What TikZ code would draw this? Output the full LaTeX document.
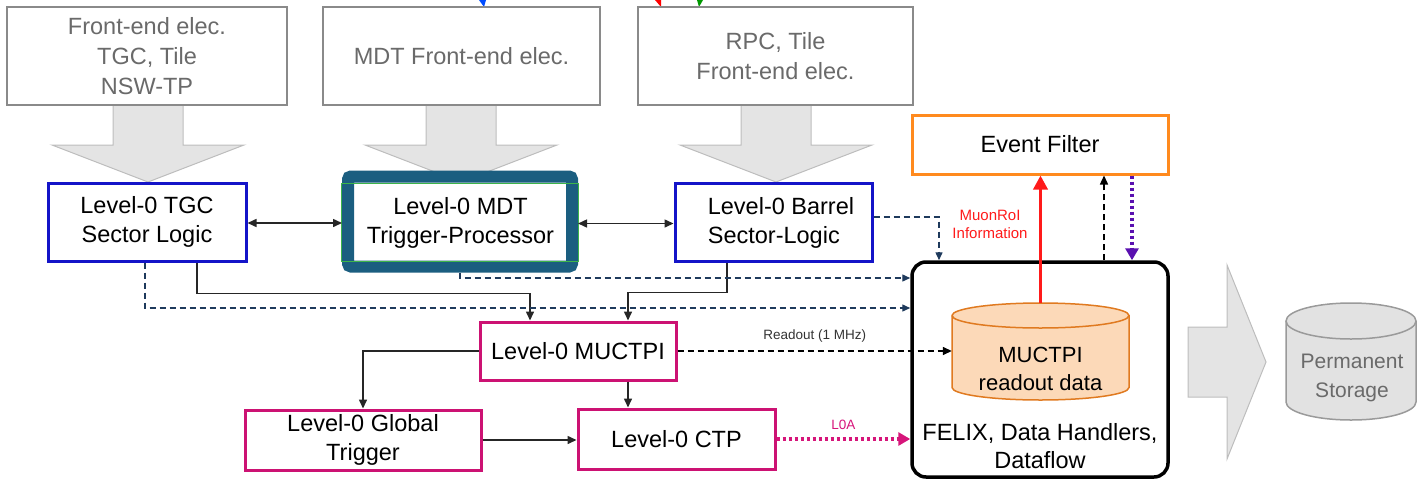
\documentclass[tikz,border=0pt]{standalone}
\usepackage{fontspec}
\setmainfont{Liberation Sans}
\usetikzlibrary{arrows.meta,calc}
\definecolor{fegray}{HTML}{8A8A8A}
\definecolor{fetext}{HTML}{6A6A6A}
\definecolor{arrgray}{HTML}{E4E4E4}
\definecolor{arredge}{HTML}{BDBDBD}
\definecolor{lblue}{HTML}{1414C8}
\definecolor{mdtteal}{HTML}{1B5E80}
\definecolor{mdtgreen}{HTML}{3DB54A}
\definecolor{lpink}{HTML}{CC1273}
\definecolor{eforange}{HTML}{FF8A1E}
\definecolor{navy}{HTML}{1E3A5C}
\definecolor{roired}{HTML}{FF1A1A}
\definecolor{lzapink}{HTML}{D6157A}
\definecolor{purp}{HTML}{5A10B0}
\definecolor{cylfill}{HTML}{FCD9B8}
\definecolor{cyledge}{HTML}{E07A20}
\definecolor{stfill}{HTML}{E2E2E2}
\definecolor{stedge}{HTML}{9A9A9A}
\definecolor{sttext}{HTML}{6A6A6A}
\newcommand\fsMain{\fontsize{23.5}{29}\selectfont}
\newcommand\fsFE{\fontsize{23.5}{30}\selectfont}
\newcommand\fsCyl{\fontsize{22}{28}\selectfont}
\newcommand\fsSmall{\fontsize{13.5}{16}\selectfont}
\newcommand\fsRoi{\fontsize{15}{18}\selectfont}
\tikzset{
  garrow/.style={fill=arrgray, draw=arredge, line width=1pt},
  febox/.style={draw=fegray, line width=1.5pt, text=fetext, align=center, font=\fsFE, inner sep=0pt},
  bluebox/.style={draw=lblue, line width=3pt, align=center, font=\fsMain, inner sep=0pt},
  pinkbox/.style={draw=lpink, line width=3pt, align=center, font=\fsMain, inner sep=0pt},
  txt/.style={align=center, font=\fsMain, inner sep=0pt},
  tipA/.style={Triangle[length=9pt,width=8pt]},
  conn/.style={draw=black!85, line width=1.5pt, -{Triangle[length=9pt,width=8pt]}},
  biconn/.style={draw=black!85, line width=1.5pt, {Triangle[length=9pt,width=8pt]}-{Triangle[length=9pt,width=8pt]}},
  dconn/.style={draw=navy, line width=1.4pt, dash pattern=on 6pt off 4pt, -{Triangle[length=8pt,width=7pt]}},
}
\begin{document}
\begin{tikzpicture}[x=1pt,y=-1pt]
\useasboundingbox (0,0) rectangle (1418,482);

% small colored tips at top edge
\fill[blue!70!cyan] (479,0) -- (486,0) -- (484,7) -- cycle;
\fill[red] (655,0) -- (661,0) -- (661,7) -- cycle;
\fill[green!60!black] (697,0) -- (703,0) -- (699,7) -- cycle;

% big gray arrows
\foreach \cx in {148,461,776} {
  \filldraw[garrow] (\cx-35,105) -- (\cx+35,105) -- (\cx+35,145) -- (\cx+96,145) -- (\cx,182) -- (\cx-96,145) -- (\cx-35,145) -- cycle;
}
\filldraw[garrow] (1188,327) -- (1227,327) -- (1227,265) -- (1266,362) -- (1227,459) -- (1227,397) -- (1188,397) -- cycle;

% front-end boxes
\node[febox, fill=white, minimum width=280pt, minimum height=98pt] (fe1) at (147,56) {Front-end elec.\\TGC, Tile\\NSW-TP};
\node[febox, fill=white, minimum width=277pt, minimum height=98pt] (fe2) at (461.5,56) {MDT Front-end elec.};
\node[febox, fill=white, minimum width=275pt, minimum height=98pt] (fe3) at (775.5,56) {RPC, Tile\\Front-end elec.};

% level-0 boxes
\node[bluebox, fill=white, minimum width=198pt, minimum height=78pt] (tgc) at (147,222) {Level-0 TGC\\Sector Logic};
\node[draw=mdtteal, line width=12pt, rounded corners=3pt, fill=white, minimum width=224pt, minimum height=90pt, inner sep=0pt] (mdtframe) at (460,221.5) {};
\draw[mdtgreen, line width=0.8pt] (341.2,183.5) rectangle (578.8,261);
\node[txt] (mdt) at (460.5,223) {Level-0 MDT\\Trigger-Processor};
\node[bluebox, fill=white, minimum width=197pt, minimum height=78pt] (barrel) at (773.5,222) {};
\node[txt, align=left] (barreltxt) at (781,223) {Level-0 Barrel\\Sector-Logic};

\node[pinkbox, minimum width=196pt, minimum height=58pt] (muctpi) at (578,351) {Level-0 MUCTPI};
\node[pinkbox, minimum width=236pt, minimum height=60pt] (global) at (363,440) {Level-0 Global\\Trigger};
\node[pinkbox, minimum width=197pt, minimum height=60pt] (ctp) at (676.5,439) {Level-0 CTP};

% event filter and FELIX
\node[draw=eforange, line width=3pt, minimum width=256pt, minimum height=59pt, font=\fsMain, inner sep=0pt] (ef) at (1040,144.5) {Event Filter};
\node[draw=black, line width=3.5pt, rounded corners=14pt, minimum width=256pt, minimum height=215pt, inner sep=0pt] (felix) at (1040,369.5) {};
\node[txt, font=\fontsize{23.5}{28}\selectfont] (felixtxt) at (1040,446) {FELIX, Data Handlers,\\Dataflow};

% MUCTPI readout cylinder
\node[minimum width=177pt, minimum height=97pt, inner sep=0pt] (cyl) at (1040.5,351.5) {};
\filldraw[fill=cylfill, draw=cyledge, line width=1.5pt]
  (952,315.5) -- (952,387.5) arc[start angle=180, end angle=360, x radius=88.5, y radius=-12.5] -- (1129,315.5)
  arc[start angle=0, end angle=180, x radius=88.5, y radius=-12.5] -- cycle;
\draw[cyledge, line width=1.5pt] (952,315.5) arc[start angle=180, end angle=360, x radius=88.5, y radius=-12.5];
\node[txt, font=\fsCyl] (cyltxt) at (1040.5,369) {MUCTPI\\readout data};

% permanent storage cylinder
\filldraw[fill=stfill, draw=stedge, line width=1.5pt]
  (1286,321) -- (1286,402) arc[start angle=180, end angle=360, x radius=65, y radius=-18] -- (1416,321)
  arc[start angle=0, end angle=180, x radius=65, y radius=-18] -- cycle;
\draw[stedge, line width=1.5pt] (1286,321) arc[start angle=180, end angle=360, x radius=65, y radius=-18];
\node[txt, text=sttext, font=\fontsize{21}{29}\selectfont] (storage) at (1352,377.5) {Permanent\\Storage};

% connectors between level-0 boxes
\draw[biconn] ([yshift=-1pt]tgc.east) -- ([yshift=-1pt]tgc.east -| mdtframe.west);
\draw[biconn] ([yshift=-2pt]mdtframe.east) -- ([yshift=-2pt]mdtframe.east -| barrel.west);

\draw[conn] ([xshift=50pt]tgc.south) -- ++(0,31) -| ([xshift=-48pt]muctpi.north);
\draw[conn] ([xshift=-46.5pt]barrel.south) -- ++(0,30) -| ([xshift=50pt]muctpi.north);

\draw[dconn] ([xshift=-2pt]tgc.south) |- ([yshift=61.5pt]felix.west);
\draw[dconn] (mdtframe.south) |- ([yshift=91.5pt]felix.west);
\draw[dconn] ([yshift=5pt]barrel.east) -| ([xshift=-101pt]felix.north);

\draw[conn] (muctpi.west) -| (global.north);
\draw[conn] ([xshift=50pt]muctpi.south) -- ([xshift=50pt]muctpi.south |- ctp.north);
\draw[conn] (global.east) -- (global.east -| ctp.west);

% readout
\draw[draw=black, line width=1.4pt, dash pattern=on 6pt off 4pt, -{Triangle[length=9pt,width=8pt]}] (muctpi.east) -- (muctpi.east -| cyl.west)
  node[midway, above=5pt, font=\fsSmall, text=black!80] (readout) {Readout (1 MHz)};

% L0A
\draw[draw=lzapink, line width=3.5pt, dash pattern=on 3pt off 3pt, -{Triangle[length=12pt,width=13pt]}] (ctp.east) -- (ctp.east -| felix.west)
  node[midway, above=4pt, font=\fsSmall, text=lzapink] (l0a) {L0A};

% to/from event filter
\draw[draw=roired, line width=3.5pt, -{Triangle[length=14pt,width=14pt]}] (cyl.north) -- (cyl.north |- ef.south);
\node[font=\fsRoi, text=roired, align=center, inner sep=0pt] (roi) at (990,224) {MuonRoI\\Information};
\draw[draw=black, line width=1.4pt, dash pattern=on 6pt off 4pt, -{Triangle[length=9pt,width=8pt]}] ([xshift=64pt]felix.north) -- ([xshift=64pt]ef.south);
\draw[draw=purp, line width=3.5pt, dash pattern=on 3pt off 3pt, -{Triangle[length=12pt,width=13pt]}] ([xshift=92pt]ef.south) -- ([xshift=92pt]felix.north);
\end{tikzpicture}
\end{document}
